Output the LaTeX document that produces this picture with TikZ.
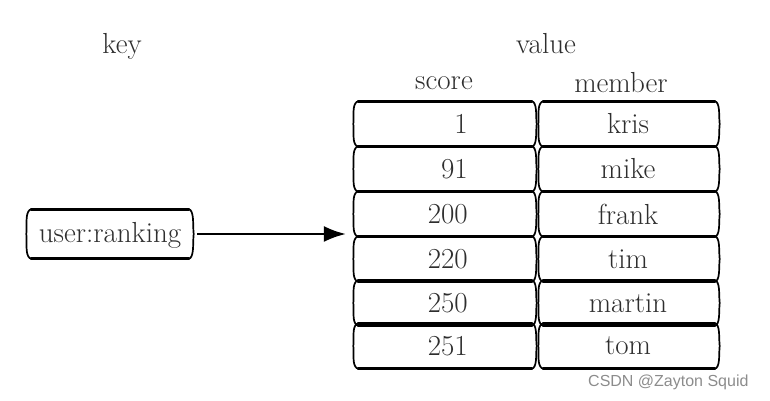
\documentclass[tikz,border=0pt]{standalone}
\usepackage{fontspec}
\setsansfont{Liberation Sans}
\usetikzlibrary{arrows.meta}
\newcommand\sketchbox[1]{%
  \draw[topedge] ([xshift=3pt]#1.north west) -- ([xshift=-3pt]#1.north east);
  \draw[topedge] ([xshift=3pt]#1.south west) -- ([xshift=-3pt]#1.south east);
  \draw[sideedge] ([xshift=2pt]#1.north west) .. controls +(-5,-4) and +(1,8) .. ([xshift=-1.5pt]#1.west)
     .. controls +(1,-8) and +(-5,4) .. ([xshift=2pt]#1.south west);
  \draw[sideedge] ([xshift=-2pt]#1.north east) .. controls +(4,-4) and +(-1,8) .. ([xshift=1.5pt]#1.east)
     .. controls +(-1,-8) and +(4,4) .. ([xshift=-2pt]#1.south east);
}
\begin{document}
\begin{tikzpicture}[x=1pt,y=1pt,
  cell/.style={minimum height=44pt, inner sep=0pt},
  lcell/.style={cell, minimum width=180pt},
  rcell/.style={cell, minimum width=178pt},
  lbl/.style={font=\fontsize{29}{33}\selectfont, text=black!82, inner sep=0pt},
  topedge/.style={line width=2.8pt, line cap=round},
  sideedge/.style={line width=1.7pt, line cap=round},
  link/.style={line width=2.2pt, -{Latex[length=22pt,width=16pt]}}]
\useasboundingbox (0,0) rectangle (770,401);
% headers
\node[lbl] (key) at (122,355) {key};
\node[lbl] (value) at (546,357) {value};
\node[lbl] (score) at (444,318) {score};
\node[lbl] (member) at (621,318) {member};
% key box
\node[cell, minimum width=164pt, minimum height=48pt] (ukey) at (110,167) {};
\node[lbl] (ukeytext) at (110,166) {user:ranking};
\sketchbox{ukey}
% table
\foreach \i/\y/\s/\m in {1/277/1/kris, 2/232/91/mike, 3/187/200/frank, 4/142/220/tim, 5/98/250/martin, 6/55/251/tom} {
  \node[lcell] (s\i) at (445,\y) {};
  \node[rcell] (m\i) at (629,\y) {};
  \node[lbl, anchor=east] (st\i) at (468,\y) {\s};
  \node[lbl] (mt\i) at (628,\y) {\m};
  \sketchbox{s\i}
  \sketchbox{m\i}
}
\draw[link, shorten <=5pt, shorten >=9pt] (ukey.east) -- (ukey.east -| s3.west);
% watermark
\node[anchor=west, font=\sffamily\fontsize{16}{18}\selectfont, text=black!45, inner sep=0pt] (wm) at (588,19) {CSDN @Zayton Squid};
\end{tikzpicture}
\end{document}
